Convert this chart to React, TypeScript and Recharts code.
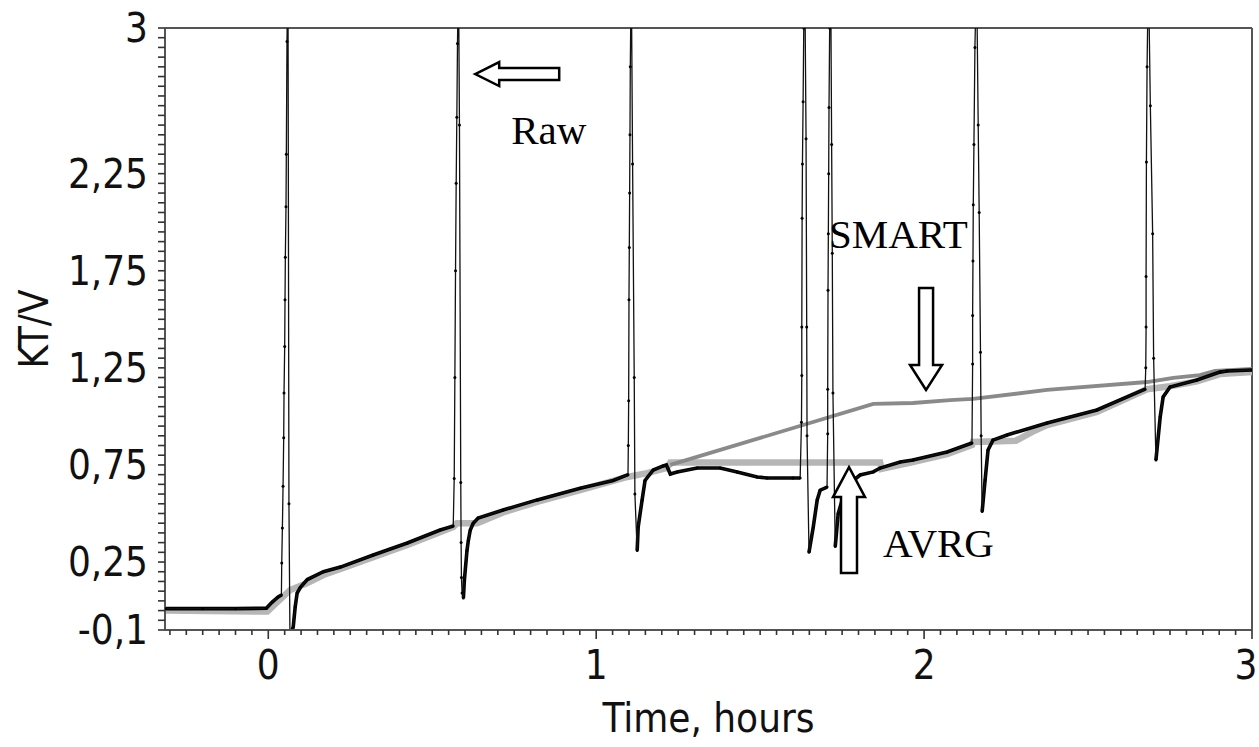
import { LineChart, Line, XAxis, YAxis, ReferenceLine, ReferenceDot, Label } from "recharts"

// raw KT/V signal, main trace (hours, value)
const rawTime = [
  -0.314, -0.2, -0.1, -0.006, 0.012, 0.03, 0.04,
  0.066, 0.07, 0.076, 0.082, 0.088, 0.098, 0.119, 0.168, 0.22, 0.32, 0.424, 0.524, 0.564,
  0.595, 0.598, 0.606, 0.61, 0.616, 0.625, 0.64, 0.716, 0.82, 0.951, 1.052, 1.097,
  1.125, 1.128, 1.14, 1.149, 1.174, 1.204, 1.214, 1.226, 1.247, 1.308, 1.378, 1.43, 1.491, 1.521, 1.6, 1.622,
  1.649, 1.662, 1.674, 1.683, 1.704,
  1.729, 1.738, 1.753, 1.774, 1.805, 1.845, 1.866, 1.927, 1.966, 2.07, 2.146,
  2.177, 2.186, 2.195, 2.21, 2.253, 2.375, 2.527, 2.674,
  2.707, 2.72, 2.729, 2.75, 2.832, 2.902, 2.924, 3.0,
]
const rawValue = [
  0.01, 0.01, 0.01, 0.012, 0.044, 0.07, 0.08,
  -0.12, -0.11, -0.085, 0.018, 0.09, 0.12, 0.16, 0.2, 0.224, 0.286, 0.348, 0.415, 0.435,
  0.065, 0.157, 0.31, 0.36, 0.415, 0.45, 0.477, 0.518, 0.57, 0.63, 0.67, 0.7,
  0.31, 0.43, 0.57, 0.67, 0.724, 0.745, 0.75, 0.703, 0.714, 0.734, 0.734, 0.714, 0.688, 0.683, 0.683, 0.683,
  0.3, 0.43, 0.57, 0.62, 0.636,
  0.33, 0.5, 0.585, 0.657, 0.698, 0.714, 0.734, 0.765, 0.775, 0.817, 0.863,
  0.51, 0.672, 0.827, 0.878, 0.904, 0.966, 1.033, 1.14,
  0.775, 0.997, 1.1, 1.151, 1.187, 1.228, 1.234, 1.239,
]

// raw signal, spike excursions (samples going up off the scale and back down)
const spikeTime = [
  0.041, 0.043, 0.045, 0.047, 0.048, 0.05, 0.051, 0.052, 0.054, 0.055, 0.057, 0.06, 0.063,
  0.567, 0.569, 0.571, 0.573, 0.575, 0.577, 0.58, 0.583, 0.587, 0.588, 0.589, 0.591,
  1.098, 1.099, 1.1, 1.101, 1.102, 1.103, 1.104, 1.107, 1.111, 1.116, 1.118,
  1.626, 1.627, 1.627, 1.628, 1.629, 1.631, 1.633, 1.636, 1.64, 1.642, 1.643,
  1.706, 1.706, 1.707, 1.708, 1.709, 1.71, 1.712, 1.715, 1.718, 1.72, 1.722,
  2.148, 2.148, 2.149, 2.15, 2.152, 2.155, 2.16, 2.165, 2.168, 2.172, 2.174,
  2.676, 2.677, 2.677, 2.678, 2.68, 2.684, 2.69, 2.697, 2.7,
]
const spikeValue = [
  0.245, 0.425, 0.64, 0.89, 1.12, 1.36, 1.6, 1.82, 2.08, 2.35, 2.93, 3.3, 0.55,
  0.68, 1.2, 1.75, 2.2, 2.54, 2.92, 3.3, 2.5, 0.66, 0.35, 0.17, 0.09,
  0.85, 1.08, 1.6, 1.87, 2.15, 2.45, 2.8, 3.3, 2.3, 1.2, 0.6,
  0.97, 1.21, 1.46, 2.02, 2.3, 2.62, 3.0, 3.3, 2.43, 1.46, 0.9,
  0.91, 1.14, 1.65, 1.94, 2.25, 2.59, 3.0, 3.3, 2.4, 1.84, 1.12,
  1.27, 1.52, 1.8, 2.09, 2.4, 2.9, 3.3, 2.5, 2.05, 1.33, 0.9,
  1.25, 1.46, 1.72, 2.31, 2.8, 3.3, 2.6, 1.94, 1.3,
]

// AVRG filtered trace
const avrgTime = [
  -0.314, -0.003, 0.067, 0.119, 0.168, 0.22, 0.424, 0.564, 0.575, 0.637, 0.716, 0.82, 0.951,
  1.095, 1.155, 1.216, 1.226, 1.866, 1.87, 1.966, 2.07, 2.146, 2.149, 2.28, 2.33, 2.375,
  2.527, 2.68, 2.75, 2.832, 2.902, 3.0,
]
const avrgValue = [
  0.0, -0.005, 0.106, 0.142, 0.183, 0.214, 0.338, 0.43, 0.45, 0.45, 0.505, 0.56, 0.62,
  0.688, 0.708, 0.734, 0.762, 0.762, 0.73, 0.765, 0.806, 0.853, 0.868, 0.875, 0.92, 0.955,
  1.023, 1.14, 1.155, 1.18, 1.218, 1.228,
]

// SMART filtered trace (separates from AVRG after ~1.2 h)
const smartTime = [1.226, 1.845, 1.966, 2.079, 2.149, 2.375, 2.68, 2.76, 2.841, 2.887, 3.0]
const smartValue = [0.75, 1.064, 1.069, 1.084, 1.09, 1.136, 1.177, 1.198, 1.213, 1.234, 1.244]

const yTickLabels = [3, 2.25, 1.75, 1.25, 0.75, 0.25, -0.1]
const xTickLabels = [0, 1, 2, 3]

const rawRows = [
  ...rawTime.map((t, i) => ({ t, raw: rawValue[i], base: rawValue[i] as number | null })),
  ...spikeTime.map((t, i) => ({ t, raw: spikeValue[i], base: null as number | null })),
].sort((a, b) => a.t - b.t)
const avrgRows = avrgTime.map((t, i) => ({ t, avrg: avrgValue[i] }))
const smartRows = smartTime.map((t, i) => ({ t, smart: smartValue[i] }))

// minor ticks every 0.05
const yTicks = Array.from({ length: 63 }, (_, i) => Math.round((i * 0.05 - 0.1) * 100) / 100)
const xTicks = Array.from({ length: 67 }, (_, i) => Math.round((i * 0.05 - 0.3) * 100) / 100)

const sans = "'DejaVu Sans Condensed', 'DejaVu Sans', sans-serif"
const serif = "'Liberation Serif', 'Times New Roman', serif"
const fmt = (v: number) => String(v).replace(".", ",")
const isIn = (list: number[], v: number) => list.some((m) => Math.abs(m - v) < 1e-6)

function YTick({ x, y, payload }: any) {
  const v = payload.value
  return (
    <g>
      <line x1={x - 7} x2={x} y1={y} y2={y} stroke="#333" strokeWidth={1.6} />
      {isIn(yTickLabels, v) && (
        <text x={x - 17} y={y} textAnchor="end" dominantBaseline="central" fontFamily={sans} fontSize={40} fill="#111">
          {fmt(v)}
        </text>
      )}
    </g>
  )
}

function XTick({ x, y, payload }: any) {
  const v = payload.value
  const major = isIn(xTickLabels, v)
  // last label sits at the right edge of the page, keep it inside
  const lx = v >= 3 ? x - 6 : x
  return (
    <g>
      <line x1={x} x2={x} y1={y} y2={y + (major ? 9 : 5)} stroke="#333" strokeWidth={1.6} />
      {major && (
        <text x={lx} y={y + 35} textAnchor="middle" dominantBaseline="central" fontFamily={sans} fontSize={40} fill="#111">
          {fmt(v)}
        </text>
      )}
    </g>
  )
}

const arrow = (pts: number[][]) => (p: any) => (
  <polygon
    points={pts.map(([dx, dy]) => `${p.cx + dx},${p.cy + dy}`).join(" ")}
    fill="#fff"
    stroke="#000"
    strokeWidth={2.5}
  />
)
const note = (label: string) => (p: any) => (
  <text x={p.cx} y={p.cy} fontFamily={serif} fontSize={41} fill="#000">
    {label}
  </text>
)

export default function App() {
  return (
    <div style={{ position: "absolute", left: 0, top: 0, background: "#fff" }}>
      <LineChart width={1259} height={747} data={rawRows} margin={{ top: 28, right: 7, bottom: 0, left: 0 }}>
        <XAxis
          dataKey="t"
          type="number"
          domain={[-0.315, 3]}
          allowDataOverflow
          ticks={xTicks}
          interval={0}
          tickSize={0}
          tickMargin={0}
          tickLine={false}
          height={117}
          axisLine={{ stroke: "#555", strokeWidth: 2 }}
          tick={(p: any) => <XTick {...p} />}
        >
          <Label
            content={(p: any) => (
              <text
                x={p.viewBox.x + p.viewBox.width / 2}
                y={p.viewBox.y + 102}
                textAnchor="middle"
                fontFamily={sans}
                fontSize={40}
                fill="#111"
              >
                Time, hours
              </text>
            )}
          />
        </XAxis>
        <YAxis
          type="number"
          domain={[-0.1, 3]}
          allowDataOverflow
          ticks={yTicks}
          interval={0}
          tickSize={0}
          tickMargin={0}
          tickLine={false}
          width={165}
          axisLine={{ stroke: "#555", strokeWidth: 2 }}
          tick={(p: any) => <YTick {...p} />}
        >
          <Label
            content={(p: any) => {
              const cx = p.viewBox.x + 34
              const cy = p.viewBox.y + p.viewBox.height / 2
              return (
                <text
                  x={cx}
                  y={cy}
                  transform={`rotate(-90 ${cx} ${cy})`}
                  textAnchor="middle"
                  dominantBaseline="central"
                  fontFamily={sans}
                  fontSize={40}
                  fill="#111"
                >
                  KT/V
                </text>
              )
            }}
          />
        </YAxis>
        <ReferenceLine y={3} stroke="#555" strokeWidth={2} />
        <ReferenceLine x={3} stroke="#555" strokeWidth={2} />
        <Line data={avrgRows} dataKey="avrg" stroke="#b6b6b6" strokeWidth={6.5} dot={false} isAnimationActive={false} />
        <Line data={smartRows} dataKey="smart" stroke="#8a8a8a" strokeWidth={3.8} dot={false} isAnimationActive={false} />
        <Line dataKey="base" stroke="#000" strokeWidth={3.6} dot={false} connectNulls={false} isAnimationActive={false} />
        <Line
          dataKey="raw"
          stroke="#111"
          strokeWidth={1.3}
          dot={{ r: 1.5, fill: "#000", stroke: "none" }}
          isAnimationActive={false}
        />
        <ReferenceDot x={0.631} y={2.763} r={1} shape={arrow([[0, 0], [24, -12], [24, -6], [84, -6], [84, 6], [24, 6], [24, 12]])} />
        <ReferenceDot x={0.741} y={2.403} r={1} shape={note("Raw")} />
        <ReferenceDot x={1.71} y={1.867} r={1} shape={note("SMART")} />
        <ReferenceDot x={2.006} y={1.136} r={1} shape={arrow([[0, 0], [-16, -25], [-7, -25], [-7, -102], [7, -102], [7, -25], [16, -25]])} />
        <ReferenceDot x={1.771} y={0.739} r={1} shape={arrow([[0, 0], [16, 30], [8, 30], [8, 106], [-8, 106], [-8, 30], [-16, 30]])} />
        <ReferenceDot x={1.875} y={0.276} r={1} shape={note("AVRG")} />
      </LineChart>
    </div>
  )
}
